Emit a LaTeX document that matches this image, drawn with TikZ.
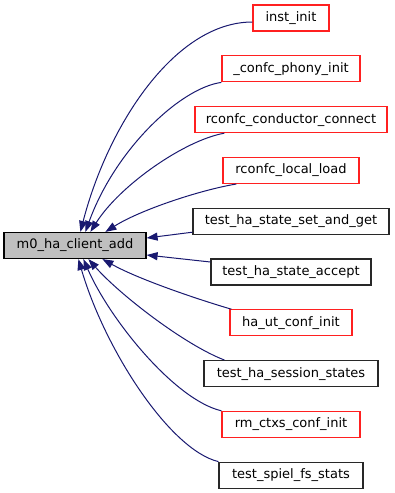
\documentclass[tikz,border=0pt]{standalone}
\usepackage{fontspec}
\setmainfont{DejaVu Sans}
\usetikzlibrary{arrows.meta}
\definecolor{edgeblue}{RGB}{25,25,112}
\definecolor{fngray}{RGB}{191,191,191}
\definecolor{fnred}{RGB}{255,32,32}
\definecolor{fndark}{RGB}{40,40,40}

\begin{document}
\begin{tikzpicture}[x=1pt, y=-1pt,
    fn/.style={draw, line width=1.2pt, minimum height=26pt, inner sep=0pt,
               font=\fontsize{13}{15}\selectfont},
    redfn/.style={fn, draw=fnred, fill=white},
    docfn/.style={fn, draw=fndark, fill=white},
    call/.style={draw=edgeblue, line width=1pt,
                 -{Triangle[length=11pt, width=8pt]}, color=edgeblue}]
  \useasboundingbox (0,0) rectangle (395,493);

  % the function itself
  \node[fn, draw=black, fill=fngray, minimum width=142pt] (client) at (75,245.5) {m0\_ha\_client\_add};

  % callers
  \node[redfn, minimum width=76pt]  (instinit)  at (291,18)    {inst\_init};
  \node[redfn, minimum width=138pt] (phonyinit) at (291,68.8)  {\_confc\_phony\_init};
  \node[redfn, minimum width=192pt] (condconn)  at (291,119.6) {rconfc\_conductor\_connect};
  \node[redfn, minimum width=136pt] (localload) at (291,170.4) {rconfc\_local\_load};
  \node[docfn, minimum width=196pt] (setget)    at (291,221.2) {test\_ha\_state\_set\_and\_get};
  \node[docfn, minimum width=160pt] (accept)    at (291,272)   {test\_ha\_state\_accept};
  \node[redfn, minimum width=122pt] (utconf)    at (291,322.8) {ha\_ut\_conf\_init};
  \node[docfn, minimum width=174pt] (sessions)  at (291,373.6) {test\_ha\_session\_states};
  \node[redfn, minimum width=138pt] (ctxsconf)  at (291,424.4) {rm\_ctxs\_conf\_init};
  \node[docfn, minimum width=144pt] (spielfs)   at (291,475.2) {test\_spiel\_fs\_stats};

  % edges into the top of the box
  \draw[call] ([yshift=-4pt]instinit.west) .. controls (175,22) and (108,125)
    .. ([xshift=77pt]client.north west);
  \draw[call] (phonyinit.south west) .. controls (180,88) and (115,150)
    .. ([xshift=82pt]client.north west);
  \draw[call] ([xshift=30pt]condconn.south west) .. controls (185,140) and (120,185)
    .. ([xshift=87pt]client.north west);
  \draw[call] ([xshift=14pt]localload.south west) .. controls (200,190) and (140,210)
    .. ([xshift=102pt]client.north west);

  % edges into the right side
  \draw[call] ([yshift=-11pt]setget.west) -- ([yshift=7.5pt]client.east);
  \draw[call] ([yshift=10pt]accept.west) -- ([yshift=-9.5pt]client.east);

  % edges into the bottom of the box
  \draw[call] ([xshift=2pt]utconf.north west) .. controls (200,300) and (140,280)
    .. ([xshift=99pt]client.south west);
  \draw[call] ([xshift=21pt]sessions.north west) .. controls (185,345) and (120,295)
    .. ([xshift=85pt]client.south west);
  \draw[call] (ctxsconf.north west) .. controls (175,400) and (110,320)
    .. ([xshift=80pt]client.south west);
  \draw[call] (spielfs.north west) .. controls (170,450) and (105,350)
    .. ([xshift=75pt]client.south west);
\end{tikzpicture}
\end{document}
